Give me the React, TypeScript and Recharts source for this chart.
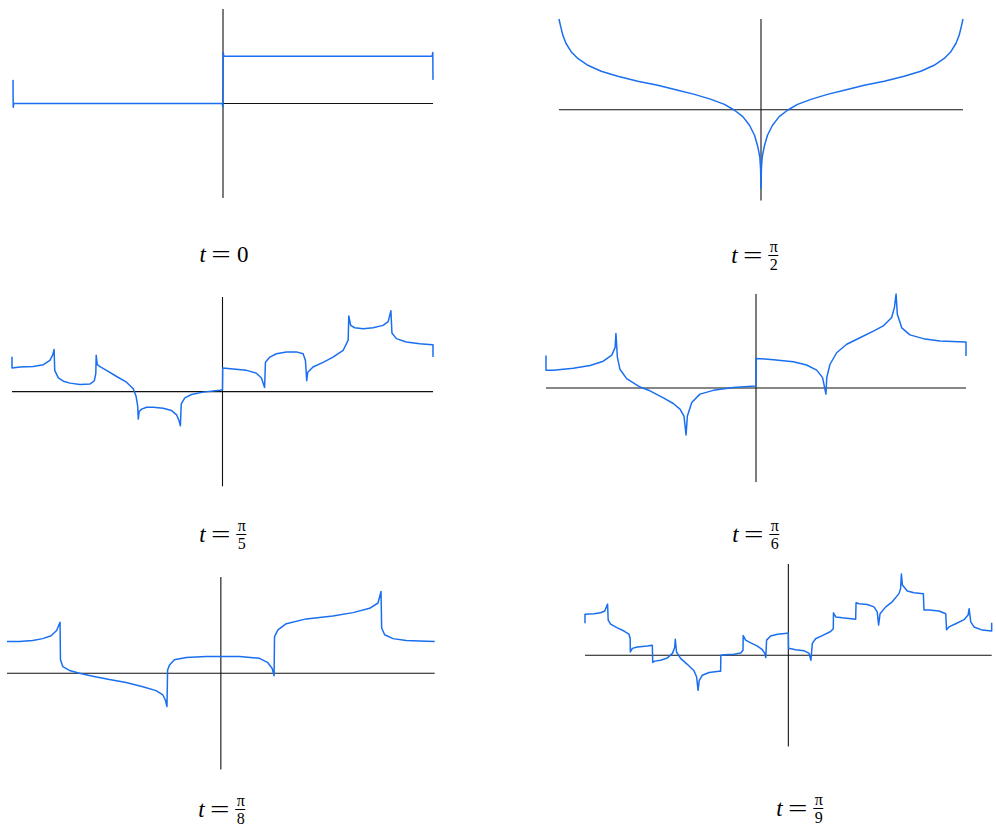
import React from 'react';
import { LineChart, Line, XAxis, YAxis, ReferenceLine } from 'recharts';

// x in multiples of pi (-1..1), y in function units (plot range -2..2)
const curveT0: [number, number][] = [
  [-1, 0.5], [-0.999, -0.08], [-0.996, 0], [-0.004, 0], [-0.001, -0.07],
  [0.001, 1.08], [0.004, 1], [0.996, 1], [0.999, 1.08], [1, 0.5],
];

const curveT2: [number, number][] = [
  [-1, 2.0], [-0.993, 1.86], [-0.981, 1.64], [-0.965, 1.46], [-0.94, 1.28], [-0.907, 1.13],
  [-0.857, 0.98], [-0.791, 0.85], [-0.709, 0.74], [-0.61, 0.63], [-0.511, 0.54], [-0.412, 0.43],
  [-0.329, 0.34], [-0.247, 0.23], [-0.181, 0.12], [-0.131, -0.01], [-0.09, -0.15], [-0.057, -0.34],
  [-0.032, -0.56], [-0.016, -0.81], [-0.006, -1.04], [-0.002, -1.3], [0, -1.73],
  [0.002, -1.3], [0.006, -1.04], [0.016, -0.81], [0.032, -0.56], [0.057, -0.34], [0.09, -0.15],
  [0.131, -0.01], [0.181, 0.12], [0.247, 0.23], [0.329, 0.34], [0.412, 0.43], [0.511, 0.54],
  [0.61, 0.63], [0.709, 0.74], [0.791, 0.85], [0.857, 0.98], [0.907, 1.13], [0.94, 1.28],
  [0.965, 1.46], [0.981, 1.64], [0.993, 1.86], [1, 2.0],
];

const curveT5: [number, number][] = [
  [-1, 0.74], [-1, 0.5], [-0.962, 0.52], [-0.899, 0.53], [-0.851, 0.57], [-0.82, 0.66], [-0.807, 0.77],
  [-0.8, 0.89], [-0.797, 0.45], [-0.78, 0.29], [-0.756, 0.22], [-0.725, 0.18], [-0.677, 0.15],
  [-0.63, 0.16], [-0.609, 0.23], [-0.602, 0.38], [-0.6, 0.77], [-0.595, 0.57], [-0.582, 0.53],
  [-0.551, 0.45], [-0.503, 0.32], [-0.456, 0.2], [-0.424, 0.06], [-0.411, -0.09], [-0.403, -0.3],
  [-0.4, -0.58], [-0.396, -0.42], [-0.384, -0.37], [-0.361, -0.33], [-0.329, -0.33], [-0.282, -0.35],
  [-0.242, -0.4], [-0.218, -0.49], [-0.206, -0.62], [-0.2, -0.72], [-0.196, -0.26], [-0.179, -0.13],
  [-0.147, -0.06], [-0.092, -0.01], [-0.013, 0.03], [0, 0.04], [0.001, 0.5], [0.051, 0.48],
  [0.114, 0.45], [0.161, 0.39], [0.185, 0.29], [0.2, 0.09], [0.204, 0.62], [0.225, 0.73],
  [0.256, 0.8], [0.304, 0.84], [0.351, 0.84], [0.383, 0.8], [0.394, 0.66], [0.4, 0.23],
  [0.405, 0.41], [0.43, 0.52], [0.478, 0.62], [0.525, 0.73], [0.573, 0.87], [0.597, 1.09],
  [0.6, 1.6], [0.609, 1.4], [0.628, 1.35], [0.668, 1.33], [0.715, 1.35], [0.763, 1.4],
  [0.787, 1.48], [0.8, 1.71], [0.805, 1.24], [0.826, 1.12], [0.873, 1.05], [0.937, 1.01],
  [0.997, 0.99], [1, 0.99], [1, 0.73],
];

const curveT6: [number, number][] = [
  [-1, 0.69], [-1, 0.38], [-0.965, 0.38], [-0.87, 0.42], [-0.79, 0.48], [-0.727, 0.57], [-0.687, 0.7],
  [-0.671, 0.86], [-0.667, 1.16], [-0.66, 0.65], [-0.648, 0.4], [-0.616, 0.2], [-0.552, 0.02],
  [-0.505, -0.06], [-0.441, -0.21], [-0.394, -0.33], [-0.362, -0.45], [-0.343, -0.6], [-0.333, -1.0],
  [-0.327, -0.6], [-0.306, -0.31], [-0.267, -0.13], [-0.203, -0.05], [-0.108, 0.01], [-0.003, 0.04],
  [0, 0.04], [0.001, 0.63], [0.083, 0.6], [0.178, 0.56], [0.241, 0.49], [0.289, 0.38], [0.317, 0.22],
  [0.333, -0.13], [0.337, 0.22], [0.352, 0.5], [0.384, 0.75], [0.432, 0.93], [0.495, 1.07],
  [0.559, 1.21], [0.606, 1.32], [0.646, 1.5], [0.659, 1.71], [0.667, 2.0], [0.673, 1.57],
  [0.694, 1.28], [0.733, 1.13], [0.797, 1.05], [0.876, 1.0], [0.997, 0.98], [1, 0.98], [1, 0.68],
];

const curveT8: [number, number][] = [
  [-1, 0.66], [-0.942, 0.66], [-0.88, 0.68], [-0.833, 0.72], [-0.794, 0.78], [-0.768, 0.89],
  [-0.752, 1.06], [-0.75, 0.28], [-0.739, 0.14], [-0.708, 0.06], [-0.661, 0.0], [-0.599, -0.06],
  [-0.521, -0.13], [-0.443, -0.19], [-0.365, -0.28], [-0.303, -0.36], [-0.271, -0.45], [-0.259, -0.56],
  [-0.252, -0.69], [-0.249, 0.07], [-0.24, 0.17], [-0.217, 0.28], [-0.162, 0.33], [-0.069, 0.35],
  [0, 0.35], [0.087, 0.35], [0.181, 0.31], [0.22, 0.22], [0.24, 0.1], [0.249, -0.05], [0.251, 0.76],
  [0.267, 0.9], [0.306, 1.03], [0.399, 1.13], [0.524, 1.19], [0.618, 1.26], [0.696, 1.35],
  [0.735, 1.46], [0.749, 1.7], [0.752, 0.94], [0.766, 0.8], [0.805, 0.72], [0.867, 0.68],
  [0.93, 0.67], [1, 0.66],
];

const curveT9: [number, number][] = [
  [-1, 0.7], [-1, 0.9], [-0.956, 0.91], [-0.923, 0.93], [-0.903, 0.97], [-0.889, 1.12], [-0.886, 0.77],
  [-0.874, 0.68], [-0.841, 0.6], [-0.808, 0.53], [-0.784, 0.46], [-0.778, 0.37], [-0.777, 0.07],
  [-0.767, 0.15], [-0.743, 0.18], [-0.693, 0.2], [-0.669, 0.22], [-0.667, -0.16], [-0.657, -0.13],
  [-0.628, -0.11], [-0.595, -0.06], [-0.57, 0.04], [-0.559, 0.17], [-0.556, 0.35], [-0.55, 0.07],
  [-0.53, -0.07], [-0.497, -0.2], [-0.464, -0.34], [-0.451, -0.48], [-0.444, -0.77], [-0.438, -0.55],
  [-0.423, -0.44], [-0.39, -0.38], [-0.341, -0.35], [-0.333, -0.35], [-0.332, 0.0], [-0.316, 0.01],
  [-0.267, 0.02], [-0.234, 0.05], [-0.223, 0.11], [-0.222, 0.43], [-0.21, 0.33], [-0.185, 0.27],
  [-0.152, 0.2], [-0.128, 0.12], [-0.116, 0.04], [-0.111, -0.05], [-0.107, 0.33], [-0.087, 0.42],
  [-0.054, 0.46], [-0.005, 0.48], [0, 0.48], [0.001, 0.15], [0.036, 0.12], [0.077, 0.1],
  [0.102, 0.04], [0.111, -0.11], [0.118, 0.26], [0.134, 0.36], [0.167, 0.43], [0.208, 0.52],
  [0.221, 0.58], [0.222, 0.93], [0.233, 0.84], [0.266, 0.82], [0.331, 0.79], [0.333, 1.15],
  [0.348, 1.13], [0.389, 1.11], [0.421, 1.06], [0.437, 0.95], [0.444, 0.66], [0.451, 0.91],
  [0.479, 1.06], [0.511, 1.17], [0.544, 1.35], [0.552, 1.46], [0.556, 1.78], [0.561, 1.54],
  [0.585, 1.41], [0.618, 1.37], [0.664, 1.35], [0.667, 0.99], [0.692, 0.99], [0.741, 0.97],
  [0.774, 0.91], [0.778, 0.56], [0.79, 0.62], [0.823, 0.69], [0.864, 0.78], [0.884, 0.88],
  [0.889, 1.02], [0.897, 0.73], [0.913, 0.62], [0.954, 0.55], [1, 0.53], [1, 0.71],
];

const labelDenominators = ['', '2', '5', '6', '8', '9'];

const BLUE = '#1a6ff0';
const FONT = '"Liberation Serif", "Times New Roman", serif';

type PanelDef = {
  data: [number, number][];
  left: number; top: number; width: number; height: number;
  labelX: number; labelY: number; den: string;
};

const panels: PanelDef[] = [
  { data: curveT0, left: 13, top: 8.5, width: 420, height: 189, labelX: 224, labelY: 255, den: labelDenominators[0] },
  { data: curveT2, left: 559.3, top: 19.3, width: 404, height: 181.6, labelX: 755, labelY: 256, den: labelDenominators[1] },
  { data: curveT5, left: 12, top: 296.7, width: 421, height: 189.3, labelX: 223, labelY: 535, den: labelDenominators[2] },
  { data: curveT6, left: 546, top: 294.3, width: 420, height: 188, labelX: 756, labelY: 535, den: labelDenominators[3] },
  { data: curveT8, left: 7.3, top: 576.7, width: 427.7, height: 192.6, labelX: 222, labelY: 810, den: labelDenominators[4] },
  { data: curveT9, left: 585, top: 564.3, width: 406.7, height: 182.4, labelX: 800, labelY: 809, den: labelDenominators[5] },
];

function Panel({ p }: { p: PanelDef }) {
  const pad = 6;
  const rows = p.data.map(([x, y]) => ({ x, y }));
  return (
    <div style={{ position: 'absolute', left: p.left - pad, top: p.top - pad }}>
      <LineChart
        width={p.width + 2 * pad}
        height={p.height + 2 * pad}
        data={rows}
        margin={{ top: pad, right: pad, bottom: pad, left: pad }}
      >
        <XAxis type="number" dataKey="x" domain={[-1, 1]} hide />
        <YAxis type="number" domain={[-2, 2]} hide />
        <ReferenceLine x={0} stroke="#111" strokeWidth={1.1} />
        <ReferenceLine y={0} stroke="#111" strokeWidth={1.1} />
        <Line
          type="linear"
          dataKey="y"
          stroke={BLUE}
          strokeWidth={1.5}
          strokeLinejoin="round"
          dot={false}
          isAnimationActive={false}
        />
      </LineChart>
    </div>
  );
}

function Label({ p }: { p: PanelDef }) {
  return (
    <div
      style={{
        position: 'absolute',
        left: p.labelX,
        top: p.labelY - 17,
        height: 34,
        transform: 'translateX(-50%)',
        display: 'flex',
        alignItems: 'center',
        fontFamily: FONT,
        fontSize: 23,
        lineHeight: '26px',
        color: '#000',
        whiteSpace: 'nowrap',
      }}
    >
      <span style={{ fontStyle: 'italic' }}>t</span>
      <span style={{ display: 'inline-block', margin: '0 9px', transform: 'scaleX(1.5)' }}>=</span>
      {p.den === '' ? (
        <span>0</span>
      ) : (
        <span
          style={{
            display: 'inline-flex',
            flexDirection: 'column',
            alignItems: 'center',
            fontSize: 16,
            lineHeight: '14px',
          }}
        >
          <span style={{ borderBottom: '1px solid #000', padding: '0 1px 1px', display: 'block' }}>π</span>
          <span style={{ paddingTop: 2, display: 'block' }}>{p.den}</span>
        </span>
      )}
    </div>
  );
}

export default function App() {
  return (
    <div style={{ position: 'absolute', left: 0, top: 0, width: 996, height: 827, background: '#fff' }}>
      {panels.map((p, i) => (
        <React.Fragment key={i}>
          <Panel p={p} />
          <Label p={p} />
        </React.Fragment>
      ))}
    </div>
  );
}
